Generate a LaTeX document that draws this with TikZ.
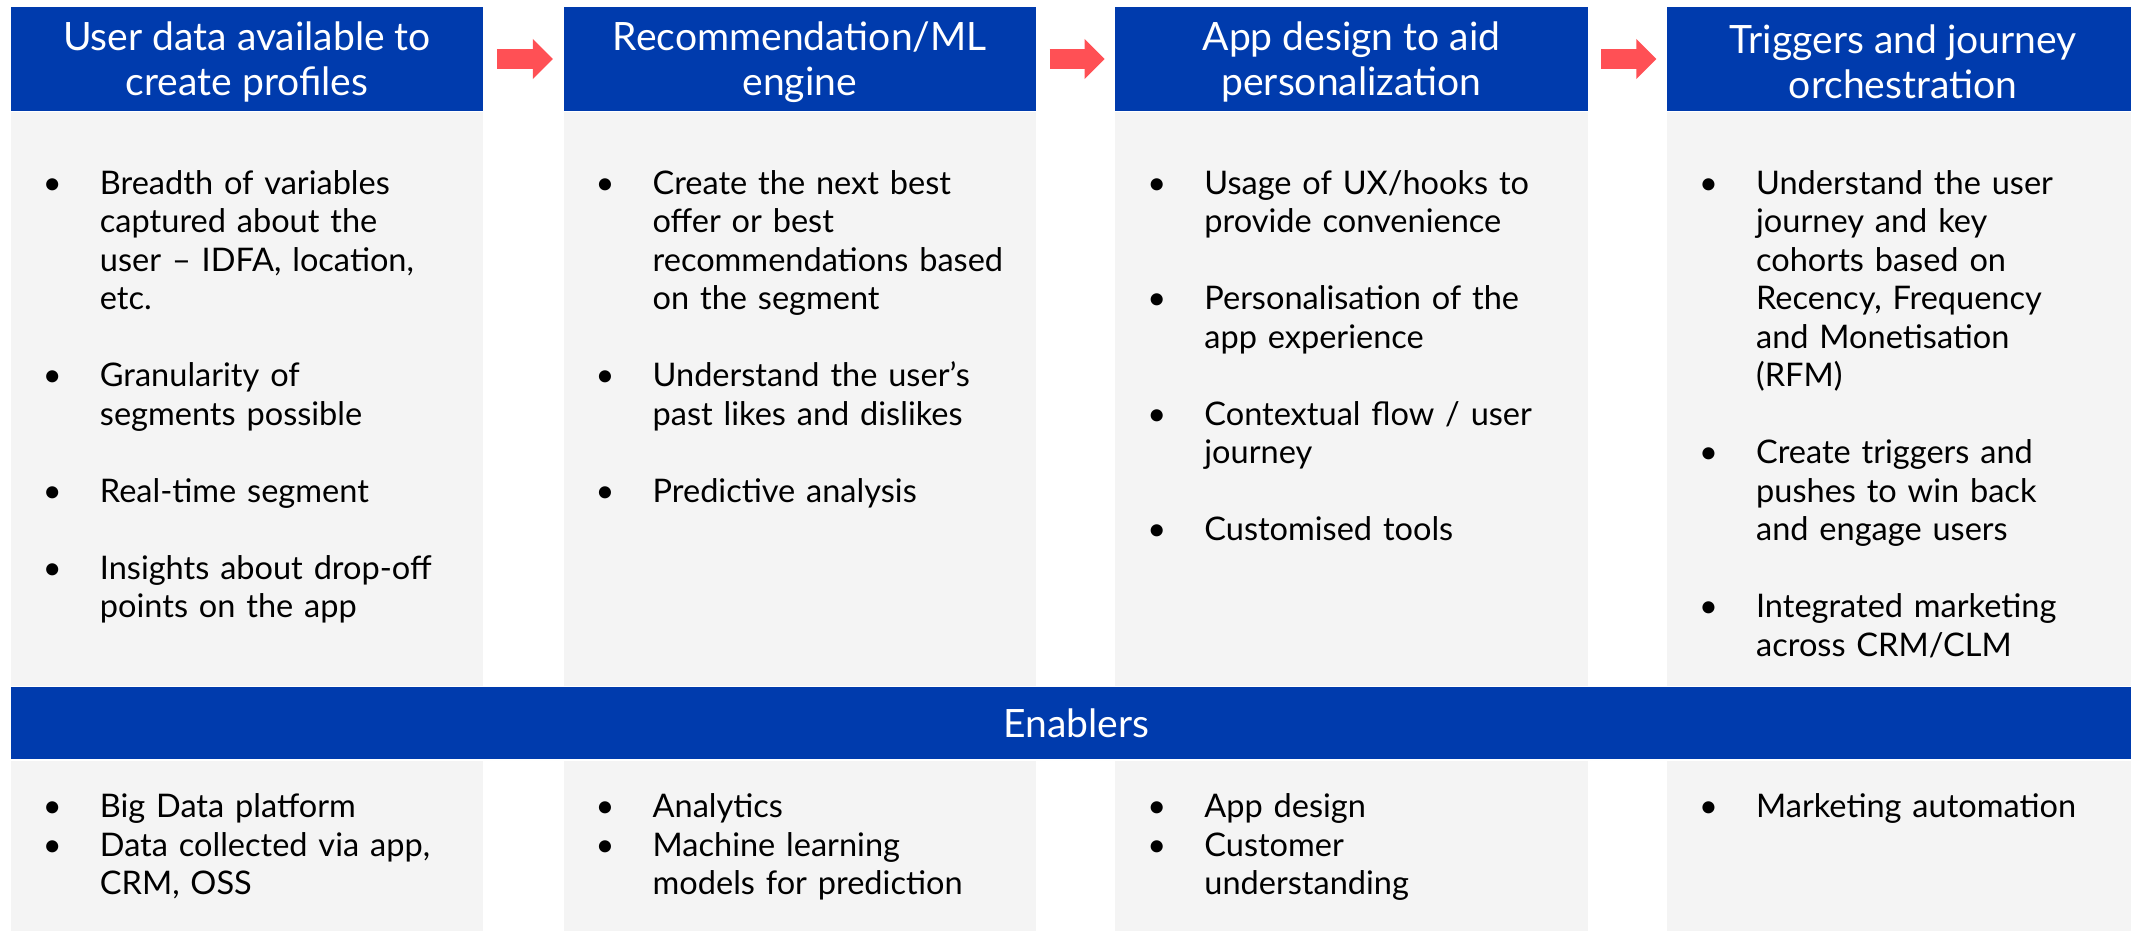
\documentclass[tikz,border=0pt]{standalone}
\usepackage{fontspec}
\setmainfont{Lato}
\usetikzlibrary{positioning,arrows.meta}

\definecolor{hdblue}{RGB}{0,59,173}
\definecolor{panelgrey}{RGB}{244,244,244}
\definecolor{flowred}{RGB}{255,80,85}

\newcommand{\headfont}{\fontsize{11.1pt}{12.8pt}\selectfont}
\newcommand{\bodyfont}{\fontsize{9.25pt}{10.95pt}\selectfont}
\newcommand{\hstrut}{\rule{0pt}{9.9pt}}
% one bullet point, text hangs under the first line
\newcommand{\bpoint}[1]{\noindent\hangindent=0.57cm\hangafter=1\makebox[0.57cm][l]{\textbullet}#1\par}
\newcommand{\bgap}{\vspace{10.95pt}}

\begin{document}
\begin{tikzpicture}[x=0.01cm, y=-0.01cm,
  head/.style={fill=hdblue, text=white, minimum width=4.72cm, minimum height=1.04cm, inner sep=0pt, align=center, font=\headfont},
  panel/.style={fill=panelgrey, minimum width=4.72cm, minimum height=5.73cm, inner sep=0pt},
  foot/.style={fill=panelgrey, minimum width=4.72cm, minimum height=1.8cm, inner sep=0pt, anchor=north west},
  points/.style={anchor=base west, text width=4.4cm, align=left, inner sep=0pt, font=\bodyfont},
  flow/.style={draw=flowred, line width=0.2cm, -{Triangle[width=0.39cm, length=0.2cm]}, shorten <=0.13cm, shorten >=0.1cm}
]
\useasboundingbox (0,0) rectangle (2131,930);

% top row: the four stages
\node[head] (h1) at (247,59) {\hstrut User data available to\\create profiles};
\node[head, right=0.79cm of h1] (h2) {\hstrut Recommendation/ML\\engine};
\node[head, right=0.78cm of h2] (h3) {\hstrut App design to aid\\personalization};
\node[head, right=0.78cm of h3] (h4) {\hstrut Triggers and journey\\orchestration};

% arrows between stages
\draw[flow] (h1) -- (h2);
\draw[flow] (h2) -- (h3);
\draw[flow] (h3) -- (h4);

% grey panels under the stages
\node[panel, below=0pt of h1] (g1) {};
\node[panel, below=0pt of h2] (g2) {};
\node[panel, below=0pt of h3] (g3) {};
\node[panel, below=0pt of h4] (g4) {};

\node[points, xshift=0.32cm, yshift=-0.825cm] (p1) at (g1.north west) {%
\bpoint{Breadth of variables\newline captured about the\newline user -- IDFA, location,\newline etc.}\bgap
\bpoint{Granularity of\newline segments possible}\bgap
\bpoint{Real-time segment}\bgap
\bpoint{Insights about drop-off\newline points on the app}};

\node[points, xshift=0.32cm, yshift=-0.825cm] (p2) at (g2.north west) {%
\bpoint{Create the next best\newline offer or best\newline recommendations based\newline on the segment}\bgap
\bpoint{Understand the user's\newline past likes and dislikes}\bgap
\bpoint{Predictive analysis}};

\node[points, xshift=0.32cm, yshift=-0.825cm] (p3) at (g3.north west) {%
\bpoint{Usage of UX/hooks to\newline provide convenience}\bgap
\bpoint{Personalisation of the\newline app experience}\bgap
\bpoint{Contextual flow / user\newline journey}\bgap
\bpoint{Customised tools}};

\node[points, xshift=0.32cm, yshift=-0.825cm] (p4) at (g4.north west) {%
\bpoint{Understand the user\newline journey and key\newline cohorts based on\newline Recency, Frequency\newline and Monetisation\newline (RFM)}\bgap
\bpoint{Create triggers and\newline pushes to win back\newline and engage users}\bgap
\bpoint{Integrated marketing\newline across CRM/CLM}};

% enablers bar across the whole width
\node[fill=hdblue, text=white, font=\headfont, minimum width=21.3cm, minimum height=0.72cm, inner sep=0pt, anchor=north west] (bar) at (g1.south west) {Enablers};

% enablers per stage
\node[foot] (f1) at (g1.west |- bar.south) {};
\node[foot] (f2) at (g2.west |- bar.south) {};
\node[foot] (f3) at (g3.west |- bar.south) {};
\node[foot] (f4) at (g4.west |- bar.south) {};

\node[points, xshift=0.32cm, yshift=-0.58cm] (e1) at (f1.north west) {%
\bpoint{Big Data platform}
\bpoint{Data collected via app,\newline CRM, OSS}};
\node[points, xshift=0.32cm, yshift=-0.58cm] (e2) at (f2.north west) {%
\bpoint{Analytics}
\bpoint{Machine learning\newline models for prediction}};
\node[points, xshift=0.32cm, yshift=-0.58cm] (e3) at (f3.north west) {%
\bpoint{App design}
\bpoint{Customer\newline understanding}};
\node[points, xshift=0.32cm, yshift=-0.58cm] (e4) at (f4.north west) {%
\bpoint{Marketing automation}};

\end{tikzpicture}
\end{document}
